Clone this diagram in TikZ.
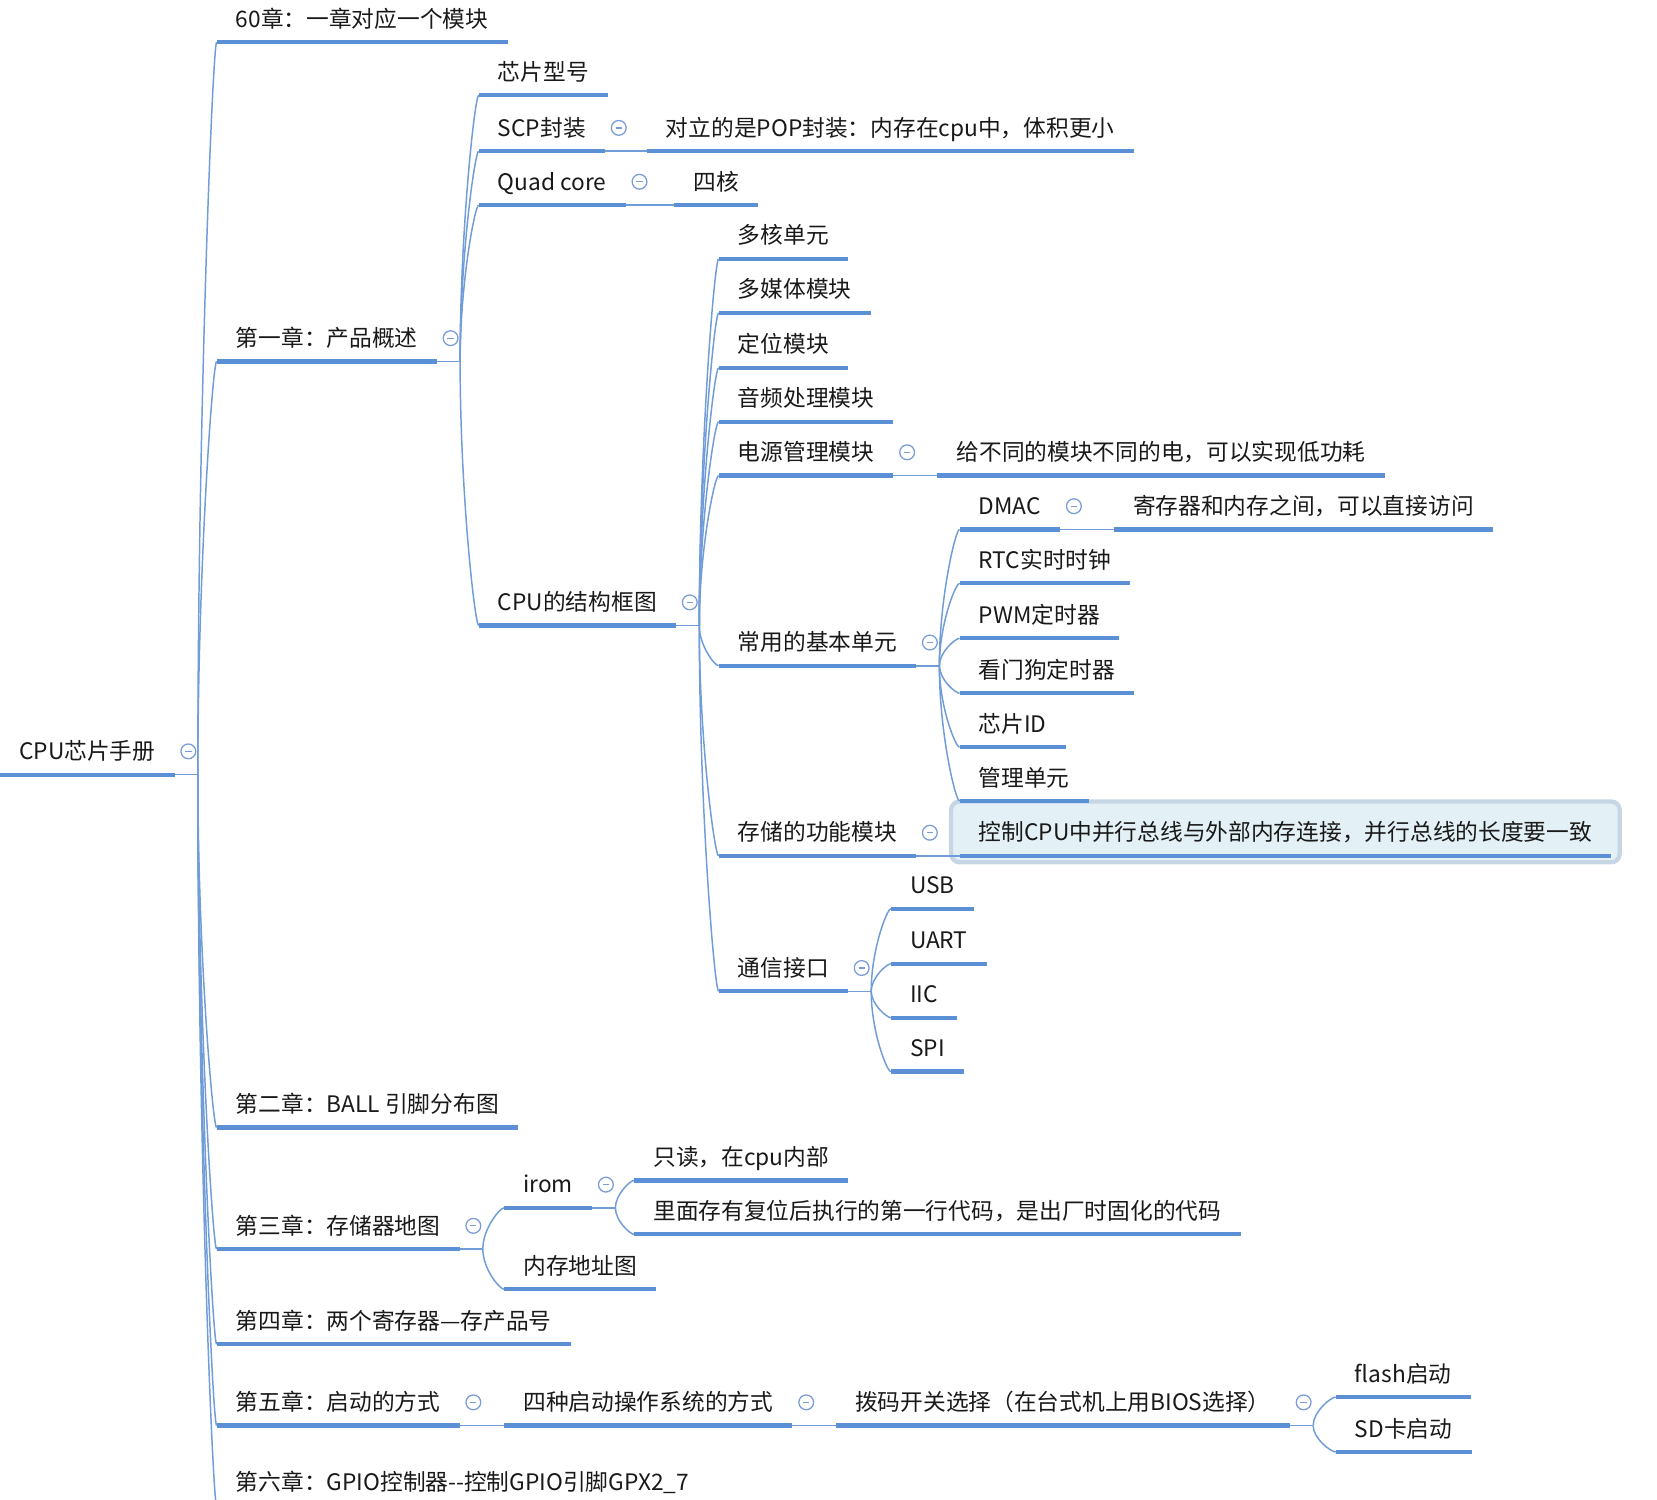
\documentclass[tikz,border=0pt]{standalone}
\usepackage{fontspec}
\setmainfont{Noto Sans CJK SC}
\usetikzlibrary{calc,backgrounds}
\definecolor{barblue}{RGB}{91,143,214}
\definecolor{linkblue}{RGB}{112,156,216}
\definecolor{iconblue}{RGB}{122,156,214}
\definecolor{selfill}{RGB}{227,240,245}
\definecolor{seledge}{RGB}{198,214,229}
\definecolor{inktext}{RGB}{25,25,25}

\begin{document}
\begin{tikzpicture}[x=1pt,y=-1pt,
    topic/.style={anchor=south west,inner xsep=18pt,inner ysep=14pt,
      text depth=0pt,text=inktext,font=\fontsize{21.5pt}{26pt}\selectfont},
    bar/.style={barblue,line width=4pt},
    link/.style={linkblue,line width=1.4pt},
    fold/.style={iconblue,line width=1.2pt,fill=white},
    selbox/.style={fill=selfill,draw=seledge,line width=4pt,rounded corners=8pt}]
  \useasboundingbox (0,0) rectangle (1568,1419);

  % root and chapters
  \node[topic] (root) at (0,733) {CPU芯片手册};
  \node[topic] (c60) at (205,40) {60章：一章对应一个模块};
  \node[topic] (c1) at (205,342) {第一章：产品概述};
  \node[topic] (c2) at (205,1067) {第二章：BALL 引脚分布图};
  \node[topic] (c3) at (205,1182) {第三章：存储器地图};
  \node[topic] (c4) at (205,1272) {第四章：两个寄存器—存产品号};
  \node[topic] (c5) at (205,1349) {第五章：启动的方式};
  \node[topic] (c6) at (205,1425) {第六章：GPIO控制器-\kern0pt-控制GPIO引脚GPX2\_7};

  % chapter 1
  \node[topic] (chip) at (453,90) {芯片型号};
  \node[topic] (scp) at (453,143) {SCP封装};
  \node[topic] (pop) at (612,143) {对立的是POP封装：内存在cpu中，体积更小};
  \node[topic] (quad) at (453,194) {Quad core};
  \node[topic] (four) at (638,194) {四核};
  \node[topic] (blk) at (453,592) {CPU的结构框图};

  % block diagram
  \node[topic] (multi) at (680,245) {多核单元};
  \node[topic] (media) at (680,296) {多媒体模块};
  \node[topic] (gps) at (680,348) {定位模块};
  \node[topic] (audio) at (680,399) {音频处理模块};
  \node[topic] (power) at (680,450) {电源管理模块};
  \node[topic] (pwrnote) at (887,450) {给不同的模块不同的电，可以实现低功耗};
  \node[topic] (basic) at (680,630) {常用的基本单元};
  \node[topic] (store) at (680,810) {存储的功能模块};
  \node[topic] (comm) at (680,938) {通信接口};

  \node[topic] (dmac) at (908,501) {DMAC};
  \node[topic] (dmanote) at (1054,501) {寄存器和内存之间，可以直接访问};
  \node[topic] (rtc) at (908,552) {RTC实时时钟};
  \node[topic] (pwm) at (908,604) {PWM定时器};
  \node[topic] (wdt) at (908,656) {看门狗定时器};
  \node[topic] (cid) at (908,707) {芯片ID};
  \node[topic] (mgmt) at (908,758) {管理单元};

  \node[topic] (ctl) at (908,810) {控制CPU中并行总线与外部内存连接，并行总线的长度要一致};
  \begin{scope}[on background layer]
    \draw[selbox] ($(ctl.north west)+(-8,-5)$) rectangle ($(ctl.south east)+(8,6)$);
  \end{scope}

  \node[topic] (usb) at (843,860) {USB};
  \node[topic] (uart) at (843,912) {UART};
  \node[topic] (iic) at (843,963) {IIC};
  \node[topic] (spi) at (843,1014) {SPI};

  % chapter 3
  \node[topic] (irom) at (477,1143) {irom};
  \node[topic] (ro) at (600,1117) {只读，在cpu内部};
  \node[topic] (rst) at (600,1168) {里面存有复位后执行的第一行代码，是出厂时固化的代码};
  \node[topic] (map) at (477,1220) {内存地址图};

  % chapter 5
  \node[topic] (boot) at (477,1349) {四种启动操作系统的方式};
  \node[topic] (dip) at (791,1349) {拨码开关选择（在台式机上用BIOS选择）};
  \node[topic] (flash) at (1264,1322) {flash启动};
  \node[topic] (sd) at (1264,1374) {SD卡启动};

  % branches with several children
  \foreach \p in {root,c1,blk,basic,comm,c3,irom,dip} {
    \coordinate (j-\p) at ($(\p.south east)+(22,0)$);
    \draw[link] (\p.south east) -- (j-\p);
  }
  \foreach \p/\c in {root/c60,root/c1,root/c2,root/c3,root/c4,root/c5,root/c6,
      c1/chip,c1/scp,c1/quad,c1/blk,
      blk/multi,blk/media,blk/gps,blk/audio,blk/power,blk/basic,blk/store,blk/comm,
      basic/dmac,basic/rtc,basic/pwm,basic/wdt,basic/cid,basic/mgmt,
      comm/usb,comm/uart,comm/iic,comm/spi,
      c3/irom,c3/map,irom/ro,irom/rst,dip/flash,dip/sd}
    \draw[link] (j-\p) .. controls ($(j-\p)!0.5!(j-\p |- \c.south west)$)
      and ($(j-\p |- \c.south west)!0.8!(\c.south west)$) .. (\c.south west);

  % single children
  \foreach \p/\c in {scp/pop,quad/four,power/pwrnote,dmac/dmanote,store/ctl,c5/boot,boot/dip}
    \draw[link] (\p.south east) -- (\c.south west);

  % underlines
  \foreach \n in {root,c60,c1,c2,c3,c4,c5,c6,chip,scp,pop,quad,four,blk,
      multi,media,gps,audio,power,pwrnote,basic,store,comm,
      dmac,dmanote,rtc,pwm,wdt,cid,mgmt,ctl,usb,uart,iic,spi,
      irom,ro,rst,map,boot,dip,flash,sd}
    \draw[bar] (\n.south west) -- (\n.south east);

  % fold markers
  \foreach \n in {root,c1,c3,c5,scp,quad,blk,power,basic,store,comm,dmac,irom,boot,dip} {
    \draw[fold] ($(\n.south east)+(13,-22)$) circle (7pt);
    \draw[iconblue,line width=1.2pt] ($(\n.south east)+(10,-22)$) -- ++(6,0);
  }
\end{tikzpicture}
\end{document}
